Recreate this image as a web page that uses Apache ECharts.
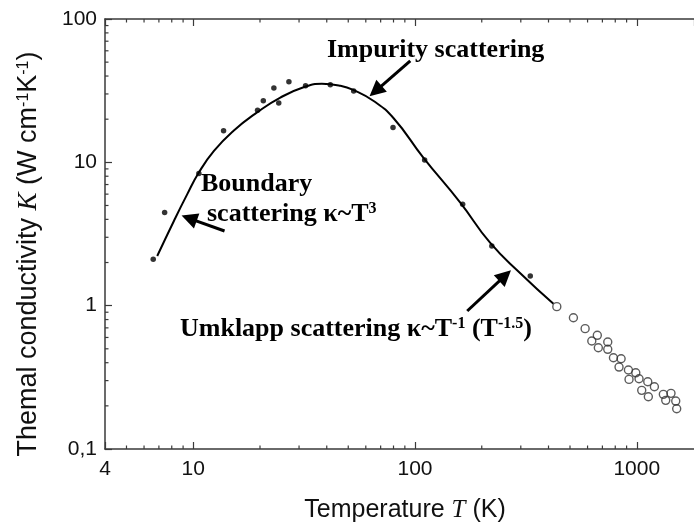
<!DOCTYPE html>
<html><head><meta charset="utf-8">
<script src="https://cdn.jsdelivr.net/npm/echarts@6/dist/echarts.min.js"></script>
<style>html,body{margin:0;padding:0;background:#fff}#c{width:694px;height:526px}</style>
</head><body><div id="c"></div>
<script>
// Fit curve (T in K, kappa in W cm^-1 K^-1)
const fitT = [6.88, 8.18, 9.40, 10.6, 12.4, 15.2, 19.4, 24.7, 32.1, 38, 46.1, 52.9, 65.1, 80.1, 109, 160, 218, 300, 421];
const fitK = [2.22, 3.90, 6.0, 8.49, 12.0, 16.6, 22.3, 28.3, 33.8, 35.3, 34.2, 31.9, 26.8, 20.3, 10.8, 5.24, 2.75, 1.67, 1.03];
// Filled dots
const lowT = [6.60, 7.43, 10.6, 13.7, 19.5, 20.7, 23.1, 24.3, 27.0, 32.1, 41.5, 52.9, 79.6, 110.5, 164, 222, 331];
const lowK = [2.11, 4.46, 8.35, 16.6, 23.1, 26.9, 33.0, 25.9, 36.5, 34.2, 34.8, 31.4, 17.5, 10.4, 5.11, 2.61, 1.61];
// Open circles
const highT = [436, 518, 585, 664, 627, 740, 671, 740, 785, 850, 832, 917, 990, 923, 1024, 1121, 1201, 1053, 1128, 1318, 1427, 1351, 1499, 1514];
const highK = [0.984, 0.824, 0.691, 0.621, 0.567, 0.558, 0.509, 0.496, 0.433, 0.426, 0.373, 0.356, 0.340, 0.306, 0.309, 0.2945, 0.272, 0.2566, 0.2314, 0.2405, 0.2444, 0.2185, 0.216, 0.191];
// Tick labels
const xTickLabels = [4, 10, 100, 1000];
const yTickLabels = ['0,1', '1', '10', '100'];
const yTickValues = [0.1, 1, 10, 100];
const xMinorTicks = [5, 6, 7, 8, 9, 20, 30, 40, 50, 60, 70, 80, 90, 200, 300, 400, 500, 600, 700, 800, 900];
const yMinorTicks = [0.2, 0.3, 0.4, 0.5, 0.6, 0.7, 0.8, 0.9, 2, 3, 4, 5, 6, 7, 8, 9, 20, 30, 40, 50, 60, 70, 80, 90];
// Annotation arrows [tailT, tailK, headT, headK]
const arrows = [[95.2, 51.1, 66.4, 31.4], [13.84, 3.32, 9.58, 4.07], [172, 0.918, 254.9, 1.618]];

const X_MIN = 4, X_MAX = 1812, Y_MIN = 0.1, Y_MAX = 100;
const AX = '#3a3a3a';
const labelFont = 'Arial, "Liberation Sans", sans-serif';
const serif = '"Times New Roman", "Liberation Serif", serif';

const chart = echarts.init(document.getElementById('c'), null, {renderer: 'canvas'});

function xLabel(v) {
  const r = Math.round(v);
  return xTickLabels.indexOf(r) >= 0 && Math.abs(v - r) < 0.01 ? String(r) : '';
}
function yLabel(v) {
  for (let i = 0; i < yTickValues.length; i++) {
    if (Math.abs(v / yTickValues[i] - 1) < 1e-6) return yTickLabels[i];
  }
  return '';
}
const baseX = {
  type: 'log', logBase: 10, min: X_MIN, max: X_MAX,
  splitLine: {show: false},
  axisLine: {show: true, lineStyle: {color: AX, width: 1.5}},
  axisTick: {show: true, inside: true, length: 7, lineStyle: {color: AX, width: 1.2}},
};

const option = {
  animation: false,
  backgroundColor: '#fff',
  grid: {left: 105, right: 0, top: 19, bottom: 77, containLabel: false},
  xAxis: [
    Object.assign({}, baseX, {position: 'bottom',
      axisLabel: {show: true, margin: 10, fontSize: 21, fontFamily: labelFont, color: '#111', formatter: xLabel, showMaxLabel: false}}),
    Object.assign({}, baseX, {position: 'top', axisLabel: {show: false}})
  ],
  yAxis: [{
    type: 'log', logBase: 10, min: Y_MIN, max: Y_MAX,
    splitLine: {show: false},
    axisLine: {show: true, lineStyle: {color: AX, width: 1.5}},
    axisTick: {show: true, inside: true, length: 7, lineStyle: {color: AX, width: 1.2}},
    axisLabel: {margin: 8, fontSize: 21, fontFamily: labelFont, color: '#111', formatter: yLabel}
  }],
  series: [
    {
      type: 'custom', xAxisIndex: 0, yAxisIndex: 0, silent: true, clip: false,
      data: xMinorTicks.map(v => [v, Y_MIN]),
      renderItem: function (params, api) {
        const v = api.value(0);
        const pb = api.coord([v, Y_MIN]);
        const pt = api.coord([v, Y_MAX]);
        return {type: 'group', children: [
          {type: 'line', shape: {x1: pb[0], y1: pb[1], x2: pb[0], y2: pb[1] - 3.5}, style: {stroke: AX, lineWidth: 1.2}},
          {type: 'line', shape: {x1: pt[0], y1: pt[1], x2: pt[0], y2: pt[1] + 3.5}, style: {stroke: AX, lineWidth: 1.2}}
        ]};
      }
    },
    {
      type: 'custom', xAxisIndex: 0, yAxisIndex: 0, silent: true, clip: false,
      data: yMinorTicks.map(v => [X_MIN, v]),
      renderItem: function (params, api) {
        const v = api.value(1);
        const p = api.coord([X_MIN, v]);
        return {type: 'line', shape: {x1: p[0], y1: p[1], x2: p[0] + 3.5, y2: p[1]}, style: {stroke: AX, lineWidth: 1.2}};
      }
    },
    {
      type: 'line', xAxisIndex: 0, yAxisIndex: 0,
      data: fitT.map((t, i) => [t, fitK[i]]),
      smooth: 0.5, showSymbol: false, symbol: 'none',
      lineStyle: {color: '#000', width: 2},
      z: 3,
      markLine: {
        silent: true, animation: false,
        symbol: ['none', 'triangle'], symbolSize: 16,
        label: {show: false},
        lineStyle: {color: '#000', width: 3, type: 'solid'},
        itemStyle: {color: '#000'},
        data: arrows.map(a => [{coord: [a[0], a[1]]}, {coord: [a[2], a[3]]}])
      }
    },
    {
      type: 'scatter', xAxisIndex: 0, yAxisIndex: 0,
      data: lowT.map((t, i) => [t, lowK[i]]),
      symbol: 'circle', symbolSize: 5.5,
      itemStyle: {color: '#000'}, z: 4
    },
    {
      type: 'scatter', xAxisIndex: 0, yAxisIndex: 0,
      data: highT.map((t, i) => [t, highK[i]]),
      symbol: 'circle', symbolSize: 8,
      itemStyle: {color: 'rgba(255,255,255,0)', borderColor: '#333', borderWidth: 1.4}, z: 4
    }
  ],
  graphic: [
    {type: 'text', x: 327, y: 50, style: {text: 'Impurity scattering', fontSize: 26, fontWeight: 'bold', fontFamily: serif, fill: '#000', verticalAlign: 'middle'}},
    {type: 'text', x: 201, y: 184, style: {text: 'Boundary', fontSize: 26, fontWeight: 'bold', fontFamily: serif, fill: '#000', verticalAlign: 'middle'}},
    {type: 'text', x: 207, y: 214, style: {
      text: 'scattering κ~T{s|3}', fontSize: 26, fontWeight: 'bold', fontFamily: serif, fill: '#000', verticalAlign: 'middle',
      rich: {s: {fontSize: 16, fontWeight: 'bold', fontFamily: serif, fill: '#000', verticalAlign: 'top'}}}},
    {type: 'text', x: 180, y: 329, style: {
      text: 'Umklapp scattering κ~T{s|-1} (T{s|-1.5})', fontSize: 26, fontWeight: 'bold', fontFamily: serif, fill: '#000', verticalAlign: 'middle',
      rich: {s: {fontSize: 16, fontWeight: 'bold', fontFamily: serif, fill: '#000', verticalAlign: 'top'}}}},
    {type: 'text', x: 405, y: 510, style: {
      text: 'Temperature {i|T} (K)', fontSize: 25, fontFamily: labelFont, fill: '#111', align: 'center', verticalAlign: 'middle',
      rich: {i: {fontSize: 25, fontStyle: 'italic', fontFamily: serif, fill: '#111'}}}},
    {type: 'text', x: 29, y: 254, rotation: Math.PI / 2, style: {
      text: 'Themal conductivity {i|K} (W cm{s|-1}K{s|-1})', fontSize: 27, fontFamily: labelFont, fill: '#111', align: 'center', verticalAlign: 'middle',
      rich: {i: {fontSize: 27, fontStyle: 'italic', fontFamily: serif, fill: '#111'}, s: {fontSize: 16, fontFamily: labelFont, fill: '#111', verticalAlign: 'top'}}}}
  ]
};
chart.setOption(option);
</script></body></html>
